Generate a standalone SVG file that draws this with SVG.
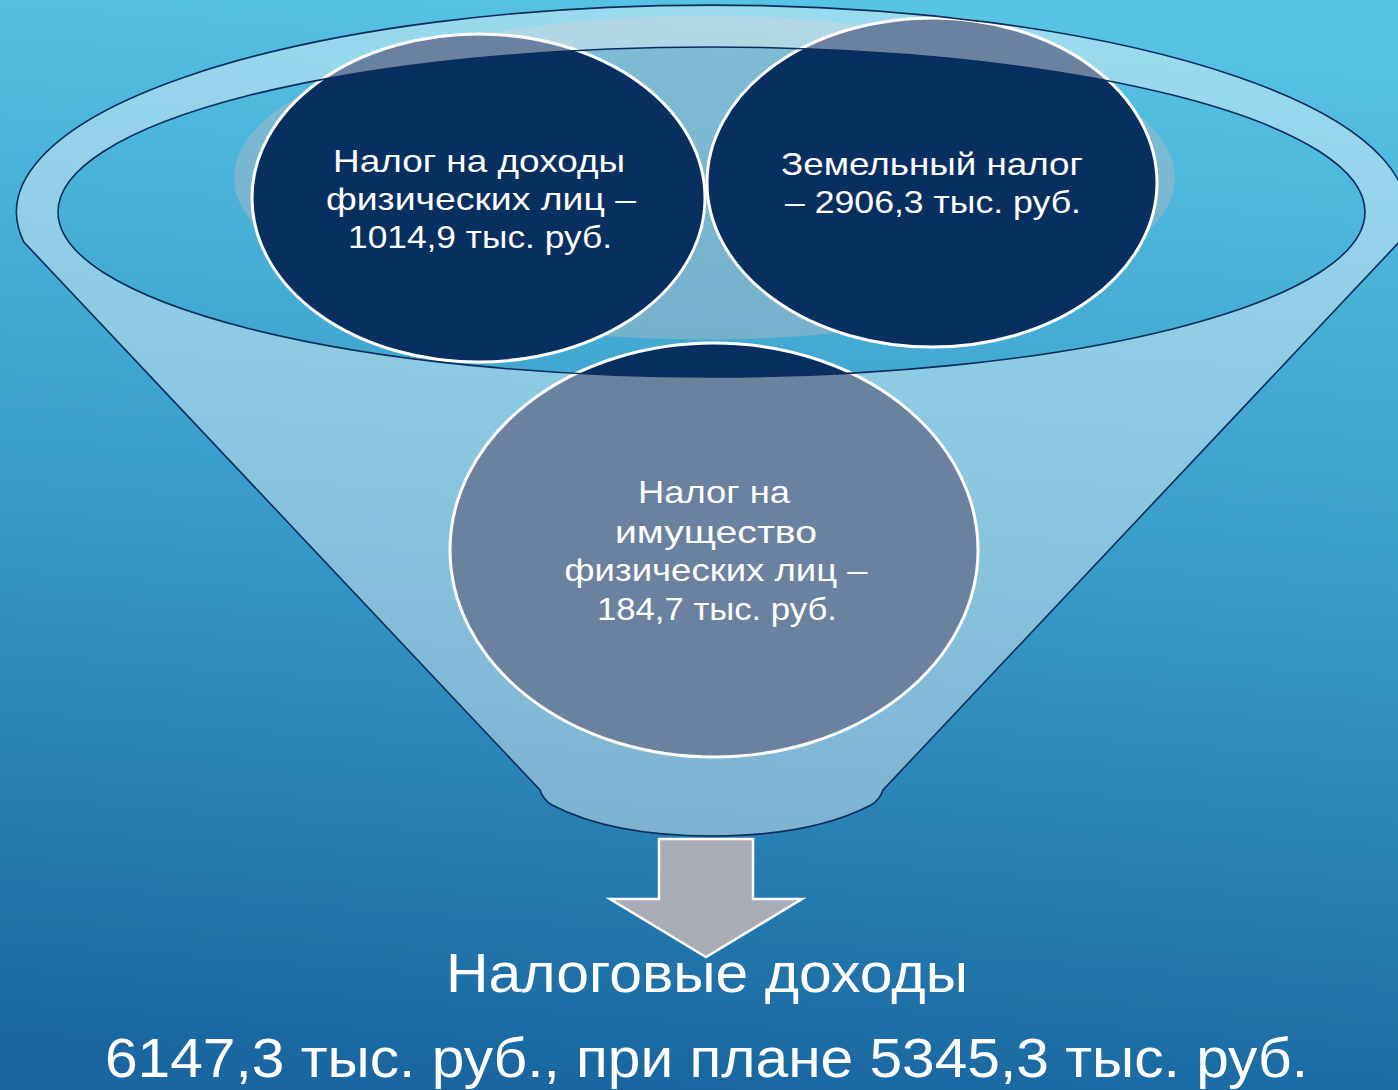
<svg xmlns="http://www.w3.org/2000/svg" width="1398" height="1090" viewBox="0 0 1398 1090">
  <defs>
    <linearGradient id="bg" x1="0.55" y1="0" x2="0.45" y2="1">
      <stop offset="0" stop-color="#57c3e5"/>
      <stop offset="0.5" stop-color="#389bc8"/>
      <stop offset="1" stop-color="#1966a0"/>
    </linearGradient>
    <style>
      .node { fill: #072f5f; stroke: #ffffff; stroke-width: 3; }
      .lbl { font-family: "Liberation Sans", Arial, sans-serif; font-size: 32px; fill: #ffffff; text-anchor: middle; }
      .big { font-family: "Liberation Sans", Arial, sans-serif; font-size: 56px; fill: #ffffff; text-anchor: middle; }
      .funnel { fill: #ffffff; fill-opacity: 0.4; fill-rule: evenodd; stroke: #0a2d5c; stroke-width: 1.6; }
    </style>
  </defs>
  <rect x="0" y="0" width="1398" height="1090" fill="url(#bg)"/>

  <g id="glow">
    <ellipse cx="704.5" cy="177.5" rx="470.5" ry="162" fill="#a8b8c6" fill-opacity="0.5"/>
  </g>

  <g id="node-ndfl">
    <ellipse class="node" cx="478.5" cy="198" rx="226.5" ry="164"/>
  </g>
  <g id="node-land">
    <ellipse class="node" cx="932" cy="182.5" rx="225" ry="164.5"/>
  </g>
  <g id="node-property">
    <ellipse class="node" cx="714" cy="550" rx="264" ry="207"/>
  </g>

  <g id="funnel">
    <path class="funnel" d="M 23.8,242 A 695,207 0 1,1 1399.2,242 L 883,790 C 881,796 878,801 871,805 C 823,830 763,836 711.5,836 C 660,836 600,830 552,805 C 545,801 542,796 540,790 Z M 58,212 A 653.5,165 0 1,0 1365,212 A 653.5,165 0 1,0 58,212 Z"/>
  </g>

  <g id="labels-ndfl">
    <text class="lbl" x="479" y="172" textLength="292" lengthAdjust="spacingAndGlyphs">Налог на доходы</text>
    <text class="lbl" x="481" y="210" textLength="310" lengthAdjust="spacingAndGlyphs">физических лиц –</text>
    <text class="lbl" x="480" y="248" textLength="264" lengthAdjust="spacingAndGlyphs">1014,9 тыс. руб.</text>
  </g>
  <g id="labels-land">
    <text class="lbl" x="932" y="175" textLength="302" lengthAdjust="spacingAndGlyphs">Земельный налог</text>
    <text class="lbl" x="933" y="213" textLength="296" lengthAdjust="spacingAndGlyphs">– 2906,3 тыс. руб.</text>
  </g>
  <g id="labels-property">
    <text class="lbl" x="714" y="503" textLength="152" lengthAdjust="spacingAndGlyphs">Налог на</text>
    <text class="lbl" x="716" y="543" textLength="202" lengthAdjust="spacingAndGlyphs">имущество</text>
    <text class="lbl" x="716" y="581" textLength="303" lengthAdjust="spacingAndGlyphs">физических лиц –</text>
    <text class="lbl" x="717" y="620" textLength="240" lengthAdjust="spacingAndGlyphs">184,7 тыс. руб.</text>
  </g>

  <g id="connectors">
    <polygon points="659,839 753,839 753,899 802,899 706,957 610,899 659,899" fill="#a9abb7" stroke="#ffffff" stroke-width="2.5"/>
  </g>

  <g id="node-result">
    <text class="big" x="707" y="992" textLength="522" lengthAdjust="spacingAndGlyphs">Налоговые доходы</text>
    <text class="big" x="706.5" y="1077" textLength="1203" lengthAdjust="spacingAndGlyphs">6147,3 тыс. руб., при плане 5345,3 тыс. руб.</text>
  </g>
</svg>
